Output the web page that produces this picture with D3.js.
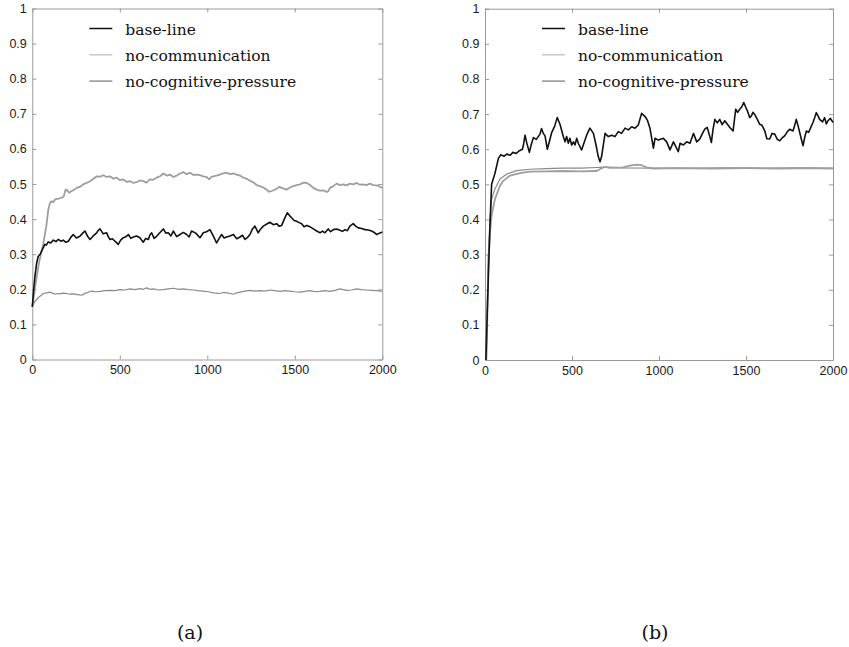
<!DOCTYPE html>
<html>
<head>
<meta charset="utf-8">
<script src="https://cdn.jsdelivr.net/npm/d3@7"></script>
<style>
  html, body { margin: 0; padding: 0; background: #fff; }
  svg { display: block; }
</style>
</head>
<body>
<svg id="chart" width="849" height="647"></svg>
<script>
// ---------------- DATA ----------------
const xTicks = [0, 500, 1000, 1500, 2000];
const yTicks = [0, 0.1, 0.2, 0.3, 0.4, 0.5, 0.6, 0.7, 0.8, 0.9, 1];
const yTickLabels = ["0", "0.1", "0.2", "0.3", "0.4", "0.5", "0.6", "0.7", "0.8", "0.9", "1"];
const seriesNames = ["base-line", "no-communication", "no-cognitive-pressure"];
const panelLabels = ["(a)", "(b)"];

// panel (a): [time, value]
const aBaseline = [[0,0.15],[8,0.2],[15,0.237],[25,0.275],[34,0.294],[45,0.300],[53,0.309],[62,0.318],[72,0.328],[80,0.326],[91,0.335],[105,0.332],[120,0.340],[135,0.336],[149,0.342],[163,0.337],[177,0.340],[192,0.334],[206,0.337],[220,0.348],[234,0.356],[252,0.346],[272,0.351],[288,0.360],[301,0.366],[315,0.352],[330,0.342],[348,0.352],[368,0.361],[377,0.368],[387,0.372],[405,0.358],[425,0.361],[434,0.350],[444,0.342],[458,0.344],[472,0.337],[481,0.333],[491,0.328],[505,0.340],[520,0.347],[535,0.350],[549,0.356],[563,0.345],[577,0.349],[596,0.352],[615,0.347],[625,0.340],[634,0.334],[648,0.345],[663,0.342],[672,0.355],[682,0.361],[696,0.345],[710,0.351],[730,0.362],[749,0.372],[763,0.360],[777,0.361],[792,0.352],[806,0.366],[825,0.350],[844,0.356],[863,0.362],[882,0.356],[896,0.349],[910,0.366],[934,0.360],[958,0.347],[968,0.354],[977,0.361],[996,0.364],[1015,0.370],[1034,0.352],[1053,0.332],[1068,0.345],[1082,0.356],[1096,0.346],[1110,0.349],[1130,0.352],[1149,0.356],[1168,0.344],[1187,0.349],[1201,0.354],[1215,0.342],[1230,0.348],[1244,0.356],[1258,0.372],[1272,0.380],[1282,0.370],[1291,0.361],[1305,0.372],[1320,0.380],[1340,0.386],[1358,0.391],[1377,0.384],[1396,0.387],[1410,0.380],[1425,0.382],[1440,0.400],[1457,0.418],[1470,0.410],[1482,0.404],[1496,0.396],[1510,0.394],[1525,0.390],[1539,0.387],[1553,0.378],[1568,0.382],[1587,0.378],[1606,0.372],[1625,0.366],[1644,0.361],[1658,0.366],[1672,0.361],[1691,0.372],[1705,0.364],[1720,0.370],[1740,0.372],[1758,0.368],[1772,0.365],[1787,0.370],[1800,0.367],[1815,0.380],[1834,0.387],[1848,0.380],[1863,0.375],[1882,0.373],[1901,0.370],[1920,0.369],[1939,0.366],[1954,0.362],[1968,0.356],[1984,0.360],[2000,0.363]];
const aNoComm = [[0,0.15],[20,0.22],[40,0.28],[63,0.33],[80,0.38],[91,0.425],[100,0.445],[110,0.451],[120,0.448],[130,0.456],[150,0.458],[168,0.461],[180,0.465],[190,0.484],[196,0.484],[210,0.475],[225,0.480],[240,0.484],[253,0.489],[272,0.492],[291,0.499],[310,0.503],[330,0.508],[350,0.515],[368,0.522],[387,0.521],[406,0.525],[425,0.520],[444,0.522],[463,0.515],[482,0.518],[500,0.511],[520,0.513],[540,0.506],[558,0.508],[578,0.503],[596,0.505],[615,0.510],[634,0.508],[652,0.504],[672,0.513],[690,0.512],[710,0.518],[730,0.522],[749,0.530],[768,0.524],[787,0.527],[806,0.520],[825,0.524],[845,0.530],[863,0.534],[882,0.528],[901,0.532],[920,0.526],[939,0.527],[958,0.525],[977,0.522],[995,0.520],[1011,0.513],[1022,0.520],[1034,0.522],[1053,0.524],[1072,0.527],[1090,0.530],[1110,0.532],[1130,0.528],[1149,0.530],[1168,0.527],[1187,0.524],[1206,0.518],[1225,0.515],[1244,0.509],[1263,0.505],[1282,0.497],[1301,0.494],[1320,0.490],[1339,0.484],[1353,0.478],[1368,0.480],[1382,0.483],[1396,0.486],[1410,0.492],[1425,0.489],[1440,0.486],[1453,0.484],[1472,0.490],[1491,0.494],[1510,0.497],[1530,0.499],[1549,0.504],[1568,0.503],[1587,0.497],[1606,0.489],[1625,0.484],[1644,0.481],[1663,0.482],[1682,0.477],[1692,0.480],[1701,0.489],[1720,0.494],[1739,0.501],[1758,0.497],[1777,0.499],[1796,0.496],[1815,0.501],[1834,0.499],[1853,0.503],[1872,0.498],[1891,0.499],[1910,0.497],[1930,0.501],[1949,0.497],[1968,0.496],[1984,0.493],[2000,0.489]];
const aNoCog = [[0,0.15],[15,0.166],[34,0.176],[63,0.188],[82,0.190],[101,0.192],[115,0.189],[130,0.186],[145,0.188],[158,0.187],[177,0.189],[196,0.188],[215,0.186],[234,0.187],[258,0.185],[282,0.183],[296,0.187],[310,0.190],[339,0.195],[362,0.193],[387,0.194],[415,0.196],[444,0.197],[472,0.196],[501,0.199],[530,0.198],[558,0.201],[587,0.199],[615,0.202],[634,0.200],[653,0.204],[672,0.200],[691,0.201],[720,0.198],[749,0.199],[777,0.201],[806,0.203],[835,0.200],[863,0.201],[892,0.199],[920,0.198],[948,0.196],[977,0.195],[1005,0.193],[1034,0.190],[1053,0.189],[1072,0.188],[1091,0.191],[1110,0.190],[1130,0.188],[1149,0.186],[1168,0.190],[1187,0.192],[1215,0.195],[1244,0.197],[1272,0.195],[1301,0.196],[1330,0.195],[1358,0.198],[1386,0.196],[1415,0.194],[1444,0.196],[1472,0.195],[1500,0.193],[1530,0.192],[1558,0.194],[1587,0.196],[1615,0.193],[1644,0.194],[1672,0.196],[1701,0.194],[1730,0.197],[1758,0.201],[1777,0.199],[1796,0.197],[1825,0.198],[1853,0.201],[1882,0.199],[1910,0.198],[1939,0.197],[1968,0.196],[2000,0.194]];

// panel (b): [time, value]
const bBaseline = [[5,0],[20,0.25],[29,0.39],[38,0.50],[57,0.531],[77,0.574],[90,0.584],[110,0.580],[125,0.586],[145,0.583],[160,0.591],[180,0.588],[195,0.595],[215,0.600],[222,0.615],[230,0.640],[240,0.618],[255,0.591],[265,0.612],[278,0.633],[295,0.628],[316,0.643],[325,0.659],[335,0.645],[345,0.638],[358,0.600],[370,0.622],[383,0.647],[400,0.665],[415,0.690],[431,0.671],[450,0.636],[460,0.621],[469,0.636],[479,0.617],[488,0.631],[498,0.612],[508,0.621],[517,0.612],[527,0.631],[536,0.617],[546,0.607],[555,0.598],[565,0.612],[584,0.640],[603,0.660],[623,0.645],[638,0.612],[651,0.579],[661,0.564],[670,0.579],[690,0.645],[709,0.636],[728,0.640],[747,0.636],[766,0.650],[785,0.645],[805,0.660],[824,0.655],[843,0.664],[862,0.660],[881,0.669],[900,0.702],[920,0.693],[933,0.683],[948,0.660],[968,0.603],[977,0.631],[996,0.626],[1025,0.631],[1044,0.621],[1063,0.598],[1083,0.621],[1111,0.593],[1121,0.617],[1140,0.612],[1159,0.621],[1178,0.617],[1198,0.645],[1217,0.621],[1234,0.629],[1250,0.645],[1263,0.657],[1277,0.662],[1290,0.640],[1301,0.619],[1310,0.655],[1321,0.685],[1335,0.675],[1349,0.685],[1363,0.670],[1378,0.681],[1392,0.672],[1407,0.662],[1426,0.652],[1435,0.690],[1441,0.714],[1452,0.705],[1464,0.714],[1475,0.720],[1487,0.733],[1500,0.718],[1512,0.704],[1521,0.690],[1531,0.695],[1540,0.705],[1550,0.699],[1565,0.685],[1579,0.671],[1592,0.668],[1608,0.652],[1620,0.630],[1636,0.629],[1650,0.645],[1665,0.643],[1680,0.628],[1694,0.624],[1708,0.632],[1722,0.638],[1738,0.650],[1751,0.657],[1770,0.652],[1780,0.668],[1789,0.685],[1800,0.665],[1809,0.647],[1820,0.625],[1828,0.610],[1838,0.635],[1847,0.652],[1860,0.648],[1872,0.662],[1885,0.676],[1895,0.690],[1904,0.704],[1914,0.695],[1923,0.685],[1940,0.678],[1952,0.690],[1962,0.672],[1971,0.681],[1985,0.688],[2000,0.676]];
const bNoComm = [[8,0],[19,0.27],[29,0.364],[38,0.411],[57,0.458],[86,0.496],[105,0.510],[144,0.525],[201,0.532],[258,0.536],[350,0.537],[450,0.538],[550,0.537],[641,0.538],[660,0.543],[689,0.550],[718,0.547],[794,0.548],[815,0.551],[833,0.553],[871,0.556],[900,0.555],[928,0.548],[967,0.545],[1100,0.546],[1300,0.545],[1500,0.546],[1700,0.545],[1850,0.546],[2000,0.545]];
const bNoCog = [[8,0],[19,0.30],[29,0.40],[38,0.458],[57,0.487],[86,0.515],[124,0.529],[182,0.539],[258,0.543],[350,0.545],[450,0.546],[550,0.546],[641,0.548],[689,0.549],[800,0.547],[1000,0.546],[1200,0.546],[1400,0.547],[1600,0.546],[1800,0.547],[2000,0.546]];

// ---------------- DRAW ----------------
const svg = d3.select("#chart");
const styles = [
  { stroke: "#111111", width: 1.6 },
  { stroke: "#9e9e9e", width: 1.8 },
  { stroke: "#8a8a8a", width: 1.2 }
];

const panels = [
  { x0: 32.3, x1: 382.3, y0: 359.5, y1: 8.5, series: [aBaseline, aNoComm, aNoCog], label: panelLabels[0], labelX: 190 },
  { x0: 485, x1: 833, y0: 360, y1: 8.7, series: [bBaseline, bNoComm, bNoCog], label: panelLabels[1], labelX: 655 }
];

const frameColor = "#9a9a9a";

panels.forEach(p => {
  const x = d3.scaleLinear().domain([0, 2000]).range([p.x0, p.x1]);
  const y = d3.scaleLinear().domain([0, 1]).range([p.y0, p.y1]);
  const g = svg.append("g");

  const styleAxis = (sel, showText) => {
    sel.selectAll(".domain").attr("stroke", frameColor).attr("stroke-width", 1);
    sel.selectAll(".tick line").attr("stroke", frameColor).attr("stroke-width", 1);
    sel.selectAll("text")
      .attr("fill", "#1a1a1a")
      .style("font-family", "'Liberation Sans', Arial, sans-serif")
      .style("font-size", "12.5px");
    if (!showText) sel.selectAll("text").remove();
  };

  g.append("g").attr("transform", `translate(0,${p.y0})`)
    .call(d3.axisBottom(x).tickValues(xTicks).tickFormat(d3.format("d")).tickSizeInner(-4).tickSizeOuter(0).tickPadding(6))
    .call(s => styleAxis(s, true));
  g.append("g").attr("transform", `translate(0,${p.y1})`)
    .call(d3.axisTop(x).tickValues(xTicks).tickSizeInner(-4).tickSizeOuter(0))
    .call(s => styleAxis(s, false));
  g.append("g").attr("transform", `translate(${p.x0},0)`)
    .call(d3.axisLeft(y).tickValues(yTicks).tickFormat((d, i) => yTickLabels[i]).tickSizeInner(-4).tickSizeOuter(0).tickPadding(5.5))
    .call(s => styleAxis(s, true));
  g.append("g").attr("transform", `translate(${p.x1},0)`)
    .call(d3.axisRight(y).tickValues(yTicks).tickSizeInner(-4).tickSizeOuter(0))
    .call(s => styleAxis(s, false));

  const line = d3.line().x(d => x(d[0])).y(d => y(d[1]));
  [2, 1, 0].forEach(i => {
    g.append("path")
      .datum(p.series[i])
      .attr("d", line)
      .attr("fill", "none")
      .attr("stroke", styles[i].stroke)
      .attr("stroke-width", styles[i].width)
      .attr("stroke-linejoin", "round");
  });

  // legend
  const lg = g.append("g");
  seriesNames.forEach((name, i) => {
    const ly = 28.5 + i * 26.3;
    lg.append("line")
      .attr("x1", p.x0 + 57).attr("x2", p.x0 + 80)
      .attr("y1", ly).attr("y2", ly)
      .attr("stroke", i === 1 ? "#c4c4c4" : styles[i].stroke)
      .attr("stroke-width", i === 0 ? 1.5 : 1.4);
    lg.append("text")
      .attr("x", p.x0 + 93).attr("y", ly + 6)
      .attr("fill", "#111")
      .style("font-family", "'DejaVu Serif', serif")
      .style("font-size", "15.5px")
      .text(name);
  });

  svg.append("text")
    .attr("x", p.labelX).attr("y", 639)
    .attr("text-anchor", "middle")
    .attr("fill", "#111")
    .style("font-family", "'DejaVu Serif', serif")
    .style("font-size", "19px")
    .text(p.label);
});
</script>
</body>
</html>
